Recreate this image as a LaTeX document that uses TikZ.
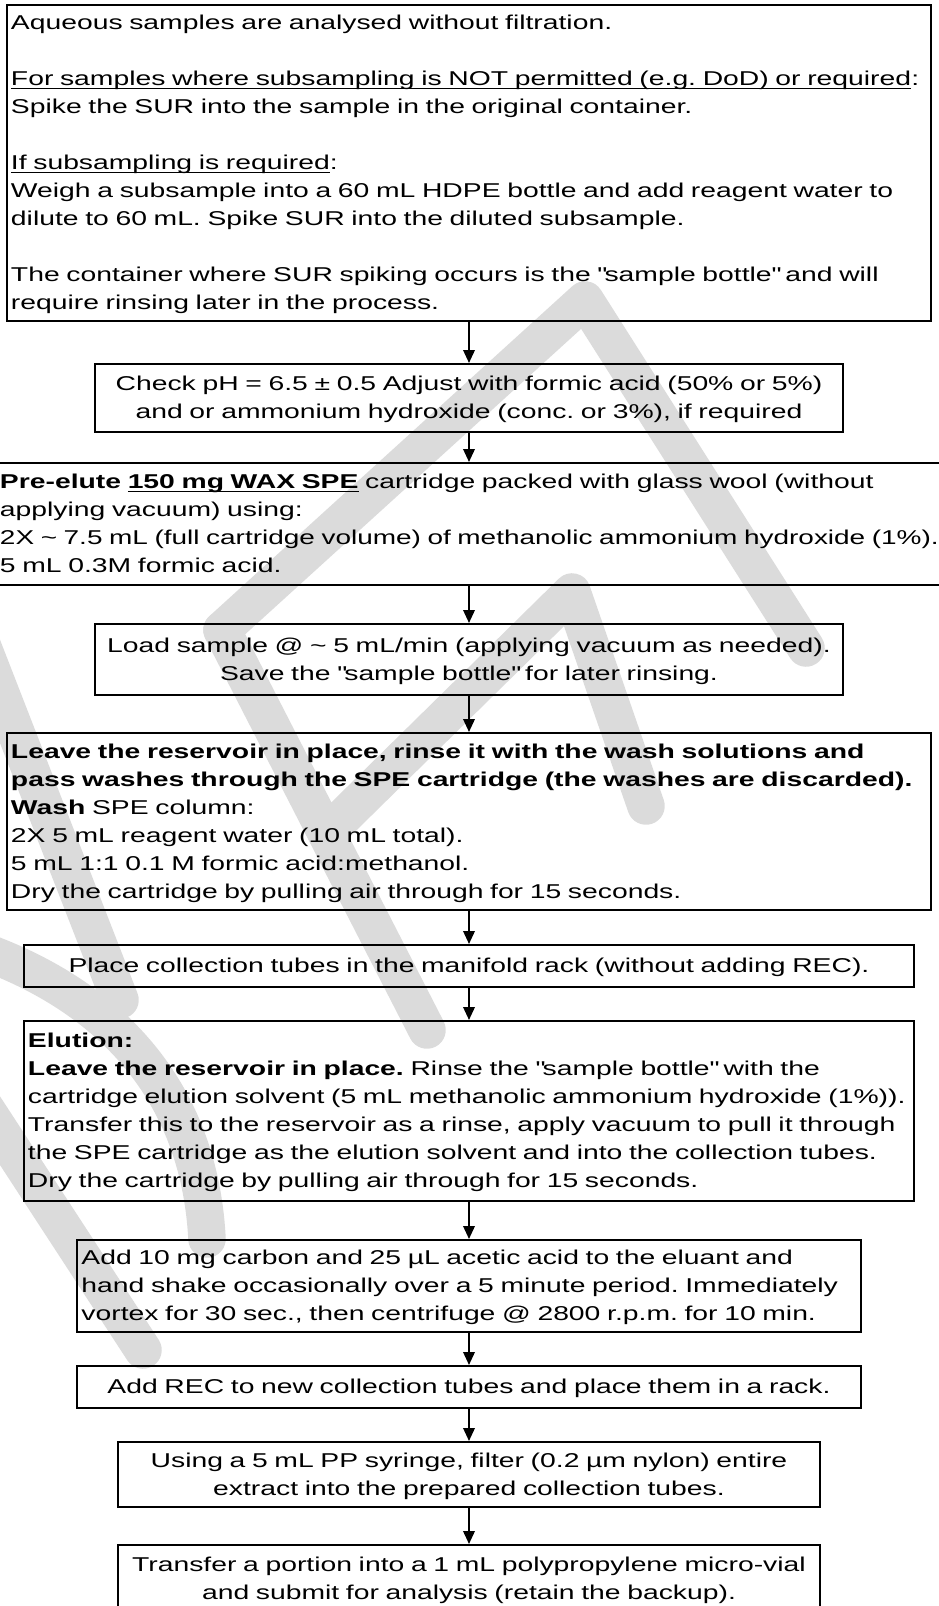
\documentclass[tikz,border=0pt]{standalone}
\usepackage{fontspec}
\setmainfont{Liberation Sans}[FakeStretch=1.415]
\usetikzlibrary{arrows.meta}
\frenchspacing

\newsavebox\ulbox
\newcommand{\ulin}[1]{\leavevmode\sbox\ulbox{#1}\rlap{\rule[-1.4pt]{\wd\ulbox}{0.7pt}}\usebox\ulbox}
\newcommand{\gap}{\\[11.2pt]}
\newcommand{\qq}[1]{\textquotedbl#1\textquotedbl}
\newcommand{\tp}{\rule{0pt}{7.2pt}}
\newcommand{\bt}{\rule[-1.7pt]{0pt}{1.7pt}}

\begin{document}
\begin{tikzpicture}[x=0.4pt, y=-0.4pt]

      \tikzset{stepbox/.style={draw, line width=0.8pt, inner xsep=1.6pt, inner ysep=0pt,
                 font=\fontsize{8pt}{11.2pt}\selectfont, execute at begin node=\tp, execute at end node=\bt},
               leftbox/.style={stepbox, align=left},
               midbox/.style={stepbox, align=center},
               wmark/.style={draw=black!14, line width=15pt, line cap=round, line join=round},
               flow/.style={-{Triangle[length=5.2pt, width=4.6pt]}, line width=0.8pt}}

      \useasboundingbox (0,0) rectangle (939,1606);
      \clip (0,0) rectangle (939,1606);

%% Watermark (light grey strokes behind the chart)
      \draw[wmark] (222,630) -- (585,300) -- (806,648);
      \draw[wmark] (222,630) -- (427,1030);
      \draw[wmark] (330,830) -- (572,592) -- (646,806);
      \draw[wmark] (-20,1100) -- (143,1350);
      \draw[wmark] (-20,950) .. controls (120,1000) and (200,1100) .. (207,1239);
      \draw[wmark] (-20,640) -- (120,1000);

%% Steps
      \node[leftbox, minimum width=369.6pt, minimum height=126.4pt, text width=366.4pt] (b1) at (469,163)
        {Aqueous samples are analysed without filtration.\gap
         \ulin{For samples where subsampling is NOT permitted (e.g. DoD) or required}:\\
         Spike the SUR into the sample in the original container.\gap
         \ulin{If subsampling is required}:\\
         Weigh a subsample into a 60 mL HDPE bottle and add reagent water to\\
         dilute to 60 mL. Spike SUR into the diluted subsample.\gap
         The container where SUR spiking occurs is the \qq{sample bottle} and will\\
         require rinsing later in the process.};
      \node[midbox, minimum width=298.8pt, minimum height=27.2pt, text width=295.6pt] (b2) at (469,398)
        {Check pH = 6.5 ± 0.5 Adjust with formic acid (50\% or 5\%)\\
         and or ammonium hydroxide (conc. or 3\%), if required};
      \node[leftbox, minimum width=378.4pt, minimum height=48.8pt, text width=375.2pt] (b3) at (469,524)
        {\textbf{Pre-elute \ulin{150 mg WAX SPE}} cartridge packed with glass wool (without\\
         applying vacuum) using:\\
         \mbox{\scalebox{0.988}[1]{2X \textasciitilde\ 7.5 mL (full cartridge volume) of methanolic ammonium hydroxide (1\%).}}\\
         5 mL 0.3M formic acid.};
      \node[midbox, minimum width=298.8pt, minimum height=28.4pt, text width=295.6pt] (b4) at (469,659.5)
        {Load sample @ \textasciitilde\ 5 mL/min (applying vacuum as needed).\\
         Save the \qq{sample bottle} for later rinsing.};
      \node[leftbox, minimum width=369.6pt, minimum height=70.8pt, text width=366.4pt] (b5) at (469,821.5)
        {\textbf{Leave the reservoir in place, rinse it with the wash solutions and}\\
         \textbf{pass washes through the SPE cartridge (the washes are discarded).}\\
         \textbf{Wash} SPE column:\\
         2X 5 mL reagent water (10 mL total).\\
         5 mL 1:1 0.1 M formic acid:methanol.\\
         Dry the cartridge by pulling air through for 15 seconds.};
      \node[midbox, minimum width=356pt, minimum height=16.8pt, text width=352.8pt] (b6) at (469,966)
        {Place collection tubes in the manifold rack (without adding REC).};
      \node[leftbox, minimum width=356pt, minimum height=72pt, text width=352.8pt] (b7) at (469,1111)
        {\textbf{Elution:}\\
         \textbf{Leave the reservoir in place.} Rinse the \qq{sample bottle} with the\\
         cartridge elution solvent (5 mL methanolic ammonium hydroxide (1\%)).\\
         Transfer this to the reservoir as a rinse, apply vacuum to pull it through\\
         the SPE cartridge as the elution solvent and into the collection tubes.\\
         Dry the cartridge by pulling air through for 15 seconds.};
      \node[leftbox, minimum width=313.2pt, minimum height=36.8pt, text width=310pt] (b8) at (469,1286)
        {Add 10 mg carbon and 25 µL acetic acid to the eluant and\\
         hand shake occasionally over a 5 minute period. Immediately\\
         vortex for 30 sec., then centrifuge @ 2800 r.p.m. for 10 min.};
      \node[midbox, minimum width=313.2pt, minimum height=16.8pt, text width=310pt] (b9) at (469,1387)
        {Add REC to new collection tubes and place them in a rack.};
      \node[midbox, minimum width=280.4pt, minimum height=26pt, text width=277.2pt] (b10) at (469,1474.5)
        {Using a 5 mL PP syringe, filter (0.2 µm nylon) entire\\
         extract into the prepared collection tubes.};
      \node[midbox, minimum width=280.4pt, minimum height=27.2pt, text width=277.2pt] (b11) at (469,1579)
        {Transfer a portion into a 1 mL polypropylene micro-vial\\
         and submit for analysis (retain the backup).};

%% Arrows
      \draw[flow] (b1) -- (b2);
      \draw[flow] (b2) -- (b3);
      \draw[flow] (b3) -- (b4);
      \draw[flow] (b4) -- (b5);
      \draw[flow] (b5) -- (b6);
      \draw[flow] (b6) -- (b7);
      \draw[flow] (b7) -- (b8);
      \draw[flow] (b8) -- (b9);
      \draw[flow] (b9) -- (b10);
      \draw[flow] (b10) -- (b11);

\end{tikzpicture}
\end{document}
